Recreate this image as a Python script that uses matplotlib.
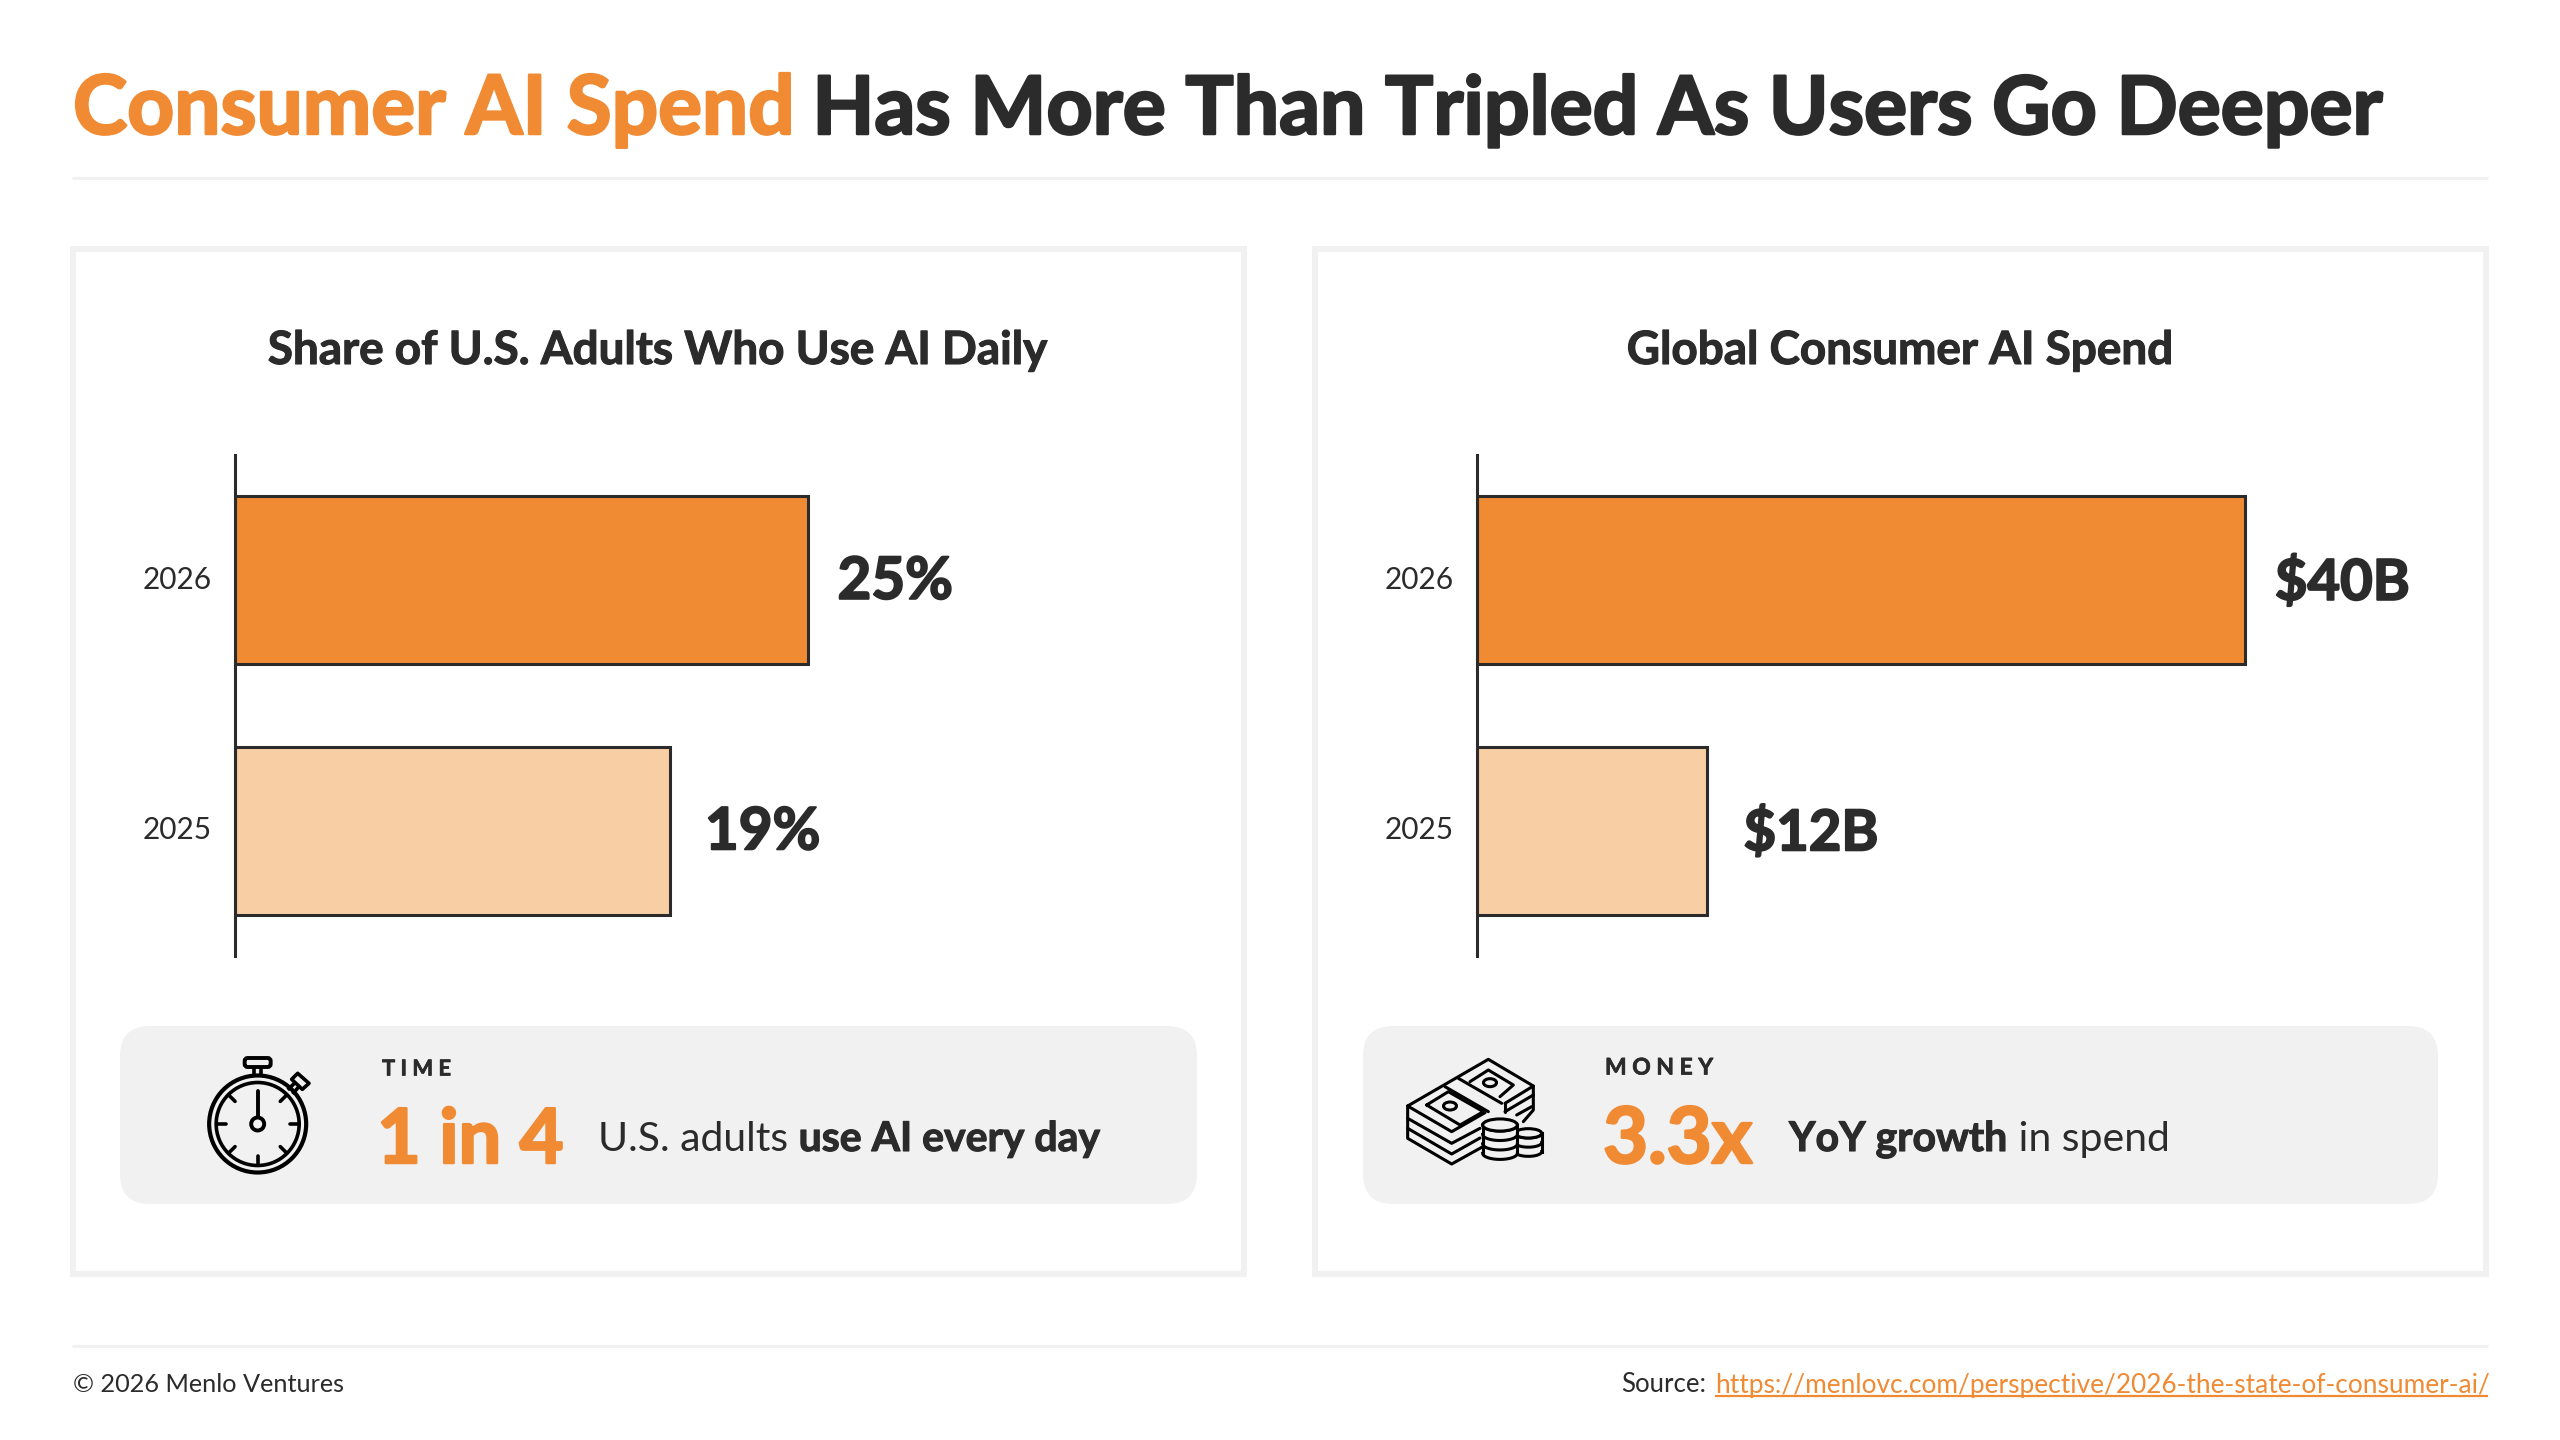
import numpy as np
import matplotlib
matplotlib.use("Agg")
import matplotlib.pyplot as plt
import matplotlib.patheffects as pe
from matplotlib.patches import Rectangle, FancyBboxPatch, Circle, Ellipse, Polygon
from matplotlib.transforms import ScaledTranslation

plt.rcParams['font.family'] = ['Lato', 'DejaVu Sans']

years = ["2025", "2026"]
adult_share = [19, 25]
consumer_spend = [12, 40]
adult_labels = ["19%", "25%"]
spend_labels = ["$12B", "$40B"]

orange = "#F08A33"
light_orange = "#F8CFA5"
dark = "#2B2B2B"
line_gray = "#F1F1F1"

fig = plt.figure(figsize=(25.6, 14.4), dpi=100, facecolor="white")

# pixel canvas for everything that isn't a bar
bg = fig.add_axes([0, 0, 1, 1])
bg.set_xlim(0, 2560)
bg.set_ylim(1440, 0)
bg.axis('off')


def heavy(color, width):
    # Lato stops at bold here, a thin outline gets it closer to the black weight
    return [pe.withStroke(linewidth=width, foreground=color)]


def chain(x, y, parts):
    # lays out runs of text one after the other, returns the end x
    renderer = fig.canvas.get_renderer()
    for string, color, weight, size, gap, thick in parts:
        t = bg.text(x, y, string, color=color, fontweight=weight, fontsize=size, ha='left', va='baseline')
        if thick:
            t.set_path_effects(heavy(color, thick))
        box = t.get_window_extent(renderer)
        x = box.x1 + gap
    return x


# header and footer
chain(73, 134, [("Consumer AI Spend", orange, 'bold', 59, 17, 1.8),
                ("Has More Than Tripled As Users Go Deeper", dark, 'bold', 58, 0, 1.8)])
bg.plot([72, 2488], [178, 178], color=line_gray, lw=2.2, solid_capstyle='butt')
bg.plot([72, 2488], [1346, 1346], color=line_gray, lw=2.2, solid_capstyle='butt')

bg.text(73, 1385, "© 2026 Menlo Ventures", color=dark, fontsize=18.2, va='center')
bg.text(1621, 1385, "Source:", color=dark, fontsize=18.5, va='center')
bg.text(1715, 1385, "https://menlovc.com/perspective/2026-the-state-of-consumer-ai/",
        color=orange, fontsize=18.9, va='center')
bg.plot([1715, 2488], [1396, 1396], color=orange, lw=1.6, solid_capstyle='butt')

# panels
for x0, x1, cx, name in [(73, 1243.5, 658, "Share of U.S. Adults Who Use AI Daily"),
                         (1315, 2486, 1900, "Global Consumer AI Spend")]:
    bg.add_patch(Rectangle((x0, 249), x1 - x0, 1025, fc='white', ec=line_gray, lw=4.3))
    t = bg.text(cx, 351, name, color=dark, fontsize=33, fontweight='bold', ha='center', va='center')
    t.set_path_effects(heavy(dark, 0.8))

for x0, w in [(120, 1017), (1363, 1015)]:
    bg.add_patch(FancyBboxPatch((x0 + 30, 1056), w, 118, boxstyle="round,pad=30",
                                fc=line_gray, ec='none'))


def bar_panel(rect, values, labels, xmax, offsets, size):
    ax = fig.add_axes([rect[0] / 2560, 1 - 956 / 1440, rect[1] / 2560, 501 / 1440])
    ax.patch.set_alpha(0)
    ax.barh(years, values, height=0.67, color=[light_orange, orange], edgecolor=dark, linewidth=2.2)
    ax.set_xlim(0, xmax)
    ax.set_ylim(-0.5, 1.5)
    ax.set_xticks([])
    ax.tick_params(axis='y', length=0, pad=17, labelsize=21.5, labelcolor=dark)
    # nudge year labels up a touch, Lato sits low
    nudge = ScaledTranslation(0, 2 / 72, fig.dpi_scale_trans)
    for label in ax.get_yticklabels():
        label.set_transform(label.get_transform() + nudge)
    for side in ['top', 'right', 'bottom']:
        ax.spines[side].set_visible(False)
    ax.spines['left'].set_color(dark)
    ax.spines['left'].set_linewidth(2.2)
    for i, v in enumerate(values):
        ax.annotate(labels[i], (v, i), xytext=(offsets[i], -1.5), textcoords='offset points',
                    color=dark, fontsize=size, fontweight='bold', va='center', ha='left',
                    path_effects=heavy(dark, 1.4))


bar_panel((235, 962), adult_share, adult_labels, 42, (25, 21.5), 42)
bar_panel((1477, 960), consumer_spend, spend_labels, 50, (26, 21.5), 40.5)

# insight cards
t = bg.text(382, 1069, "T I M E", color=dark, fontsize=15.8, fontweight='bold', va='center')
t.set_path_effects(heavy(dark, 0.5))
chain(377, 1163, [("1 in 4", orange, 'bold', 54.5, 0, 1.8)])
chain(598, 1151, [("U.S. adults ", dark, 'normal', 29.5, 0, 0), ("use AI every day", dark, 'bold', 29.5, 0, 0.8)])

t = bg.text(1605, 1068, "M O N E Y", color=dark, fontsize=16.5, fontweight='bold', va='center')
t.set_path_effects(heavy(dark, 0.5))
chain(1603, 1163, [("3.3x", orange, 'bold', 56, 0, 1.8)])
chain(1789, 1151, [("YoY growth", dark, 'bold', 29.5, 0, 0.8), (" in spend", dark, 'normal', 29.5, 0, 0)])


# stopwatch icon, pixel coords from the reference crop
def sw(u, v):
    return 195 + u / 3, 1050 + v / 3


cx, cy = sw(188, 222)
bg.add_patch(Circle((cx, cy), 48.5, fc='none', ec='black', lw=3.0))
bg.add_patch(Circle((cx, cy), 41.5, fc='none', ec='black', lw=2.6))
for deg in [45, 90, 135, 180, 225, 270, 315]:
    a = np.deg2rad(deg)
    bg.plot([cx + 32 * np.sin(a), cx + 41 * np.sin(a)], [cy - 32 * np.cos(a), cy - 41 * np.cos(a)],
            color='black', lw=2.6, solid_capstyle='round')
bg.plot([cx, cx], [sw(0, 122)[1], sw(0, 200)[1]], color='black', lw=2.8, solid_capstyle='round')
bg.add_patch(Circle((cx, cy), 6.5, fc=line_gray, ec='black', lw=2.8))
bg.add_patch(FancyBboxPatch((sw(158, 0)[0], sw(0, 33)[1]), 20, 3, boxstyle="round,pad=3",
                            fc='none', ec='black', lw=2.8))
bg.plot([sw(178, 0)[0]] * 2, [sw(0, 55)[1], sw(0, 75)[1]], color='black', lw=2.6)
bg.plot([sw(198, 0)[0]] * 2, [sw(0, 55)[1], sw(0, 75)[1]], color='black', lw=2.6)
bg.add_patch(Polygon([sw(308, 70), sw(342, 100), sw(322, 118), sw(290, 88)], closed=True,
                     fc='none', ec='black', lw=2.6, joinstyle='round'))
bg.plot(*zip(sw(298, 100), sw(282, 116)), color='black', lw=2.6)
bg.plot(*zip(sw(310, 112), sw(296, 128)), color='black', lw=2.6)


# money icon
def mn(u, v):
    return 1395 + u / 3, 1050 + v / 3


def stroke(*pts):
    bg.plot(*zip(*[mn(*p) for p in pts]), color='black', lw=2.2,
            solid_capstyle='round', solid_joinstyle='round')


stroke((38, 168), (280, 28), (415, 108), (330, 160))
stroke((38, 168), (170, 245), (270, 188))
stroke((38, 168), (38, 265), (170, 342), (260, 292))
stroke((38, 205), (170, 280), (255, 235))
stroke((38, 235), (170, 312), (255, 264))
stroke((415, 108), (415, 180), (385, 215))
stroke((330, 185), (415, 135))
stroke((365, 195), (410, 170))
stroke((150, 110), (280, 185))
stroke((190, 85), (320, 160))
stroke((330, 160), (330, 185))
stroke((95, 165), (160, 125), (265, 185), (195, 225), (95, 165))
stroke((225, 95), (280, 60), (355, 105), (315, 140))
for u, v in [(165, 168), (285, 98)]:
    ex, ey = mn(u, v)
    bg.add_patch(Ellipse((ex, ey), 13, 8, fc='none', ec='black', lw=2.2))


def coin_stack(u, rx, top, bottom, rows, zorder):
    ex = mn(u, 0)[0]
    y0 = mn(0, top)[1]
    y1 = mn(0, bottom)[1]
    w = 2 * rx / 3
    h = 2 * (rx * 0.35) / 3
    bg.add_patch(Ellipse((ex, y1), w, h, fc=line_gray, ec='none', zorder=zorder))
    bg.add_patch(Rectangle((ex - w / 2, y0), w, y1 - y0, fc=line_gray, ec='none', zorder=zorder))
    bg.plot([ex - w / 2] * 2, [y0, y1], color='black', lw=2.2, zorder=zorder)
    bg.plot([ex + w / 2] * 2, [y0, y1], color='black', lw=2.2, zorder=zorder)
    t = np.linspace(0, np.pi, 40)
    for yr in np.linspace(y0, y1, rows + 1):
        bg.plot(ex + w / 2 * np.cos(t), yr + h / 2 * np.sin(t), color='black', lw=2.2, zorder=zorder)
    bg.add_patch(Ellipse((ex, y0), w, h, fc=line_gray, ec='black', lw=2.2, zorder=zorder))


coin_stack(400, 40, 250, 305, 2, 3)
coin_stack(315, 52, 225, 310, 3, 4)

fig.savefig("out.png", dpi=100)
